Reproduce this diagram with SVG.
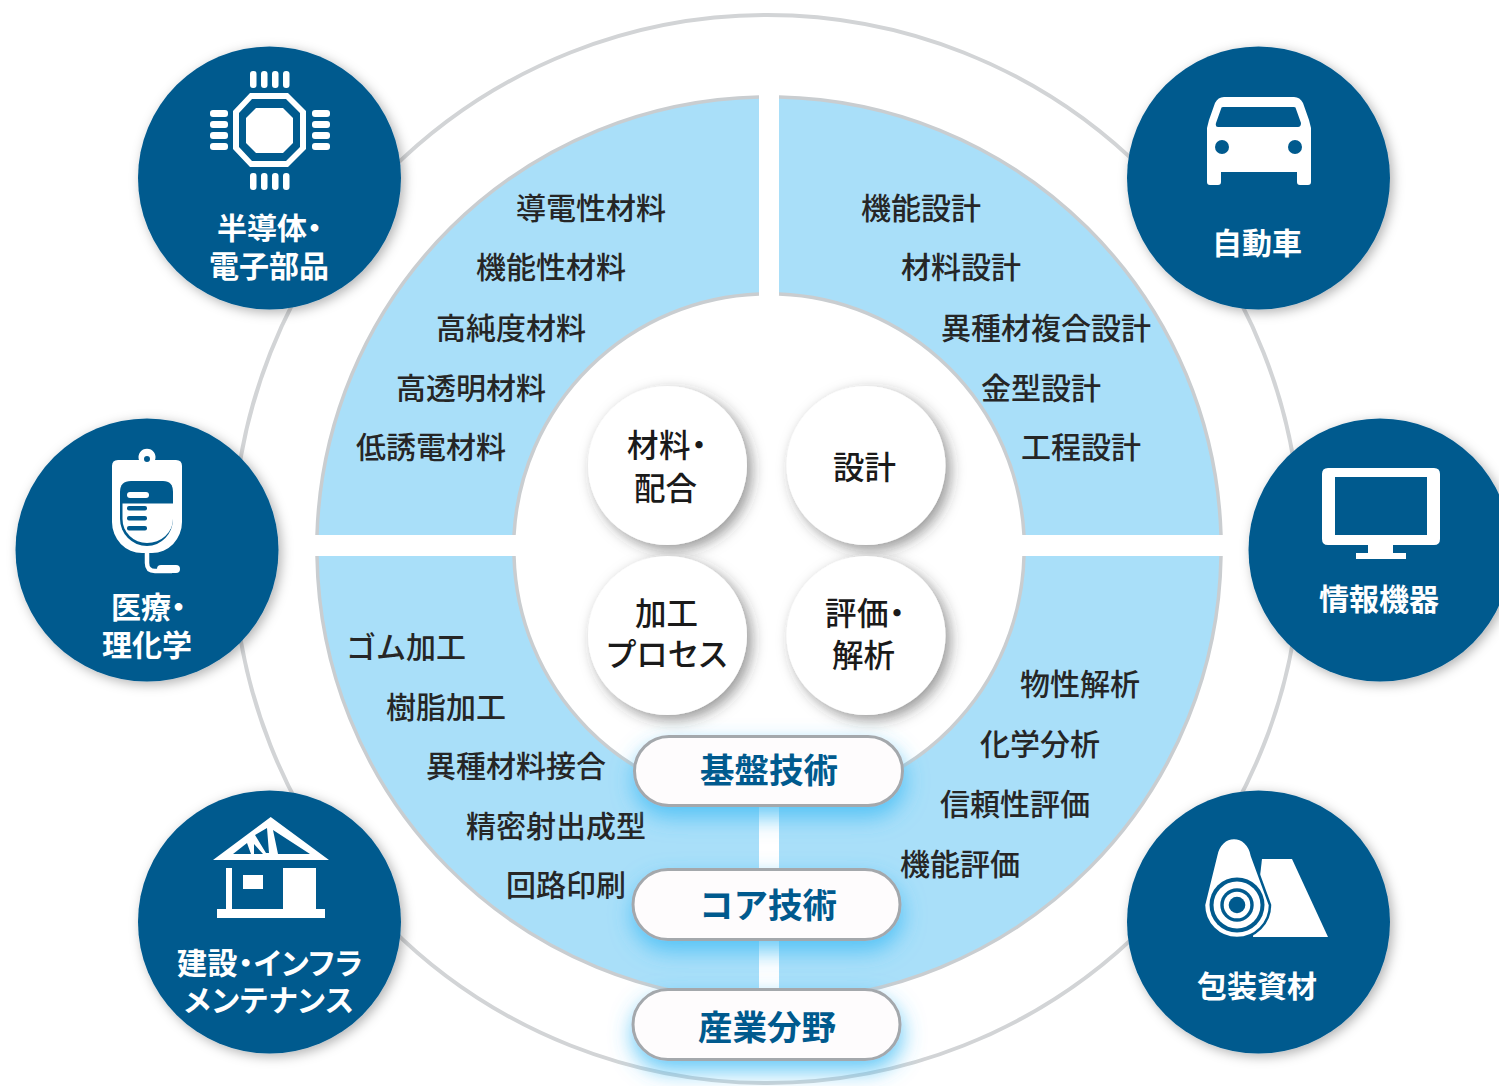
<svg xmlns="http://www.w3.org/2000/svg" width="1499" height="1086" viewBox="0 0 1499 1086">
<defs>
<style>
text{font-family:"Noto Sans CJK JP","Noto Sans",sans-serif}
.item{font-size:30px;fill:#262626;font-weight:500}
.core{font-size:31.5px;fill:#1a1a1a;font-weight:500}
.nav{font-size:30px;fill:#fff;font-weight:600}
.pillt{font-size:34.5px;fill:#005a8e;font-weight:700}
.p{font-feature-settings:"palt"}
.sector{fill:#a9dff9}
.edge{fill:none;stroke:#c9cdd0;stroke-width:3.5}
.w{fill:#fff}
.n{fill:#005a8e}
.navy{fill:#005a8e;filter:url(#s1)}
.small{fill:#fff;filter:url(#s2)}
.pill{fill:#fefcfd;stroke:#a4a8ac;stroke-width:3;filter:url(#s3)}
</style>
<filter id="s1" x="-15%" y="-15%" width="130%" height="130%"><feDropShadow dx="3" dy="3" stdDeviation="6" flood-color="#000" flood-opacity=".3"/></filter>
<filter id="s2" x="-25%" y="-25%" width="150%" height="150%"><feDropShadow dx="5" dy="5" stdDeviation="7" flood-color="#333" flood-opacity=".5"/></filter>
<filter id="s3" x="-15%" y="-40%" width="130%" height="200%"><feDropShadow dx="1" dy="10" stdDeviation="11" flood-color="#3dbcf5" flood-opacity=".8"/></filter>
</defs>
<rect width="1499" height="1086" fill="#fff"/>
<g id="connectors">
<circle cx="767" cy="549" r="534" fill="none" stroke="#d2d4d6" stroke-width="4"/>
</g>
<g id="ring">
<path class="sector" d="M759 97A452 452 0 0 0 317 535H514A255 255 0 0 1 759 294Z"/>
<path class="sector" d="M779 97A452 452 0 0 1 1221 535H1024A255 255 0 0 0 779 294Z"/>
<path class="sector" d="M317 556A452 452 0 0 0 759 1001V804A255 255 0 0 1 514 556Z"/>
<path class="sector" d="M1221 556A452 452 0 0 1 779 1001V804A255 255 0 0 0 1024 556Z"/>
<path class="edge" d="M759 97A452 452 0 0 0 317 535M779 97A452 452 0 0 1 1221 535M317 556A452 452 0 0 0 759 1001M1221 556A452 452 0 0 1 779 1001"/>
<path class="edge" d="M514 535A255 255 0 0 1 759 294M1024 535A255 255 0 0 0 779 294M514 556A255 255 0 0 0 759 804M1024 556A255 255 0 0 1 779 804"/>
</g>
<g id="list-material">
<text class="item" x="516" y="219">導電性材料</text>
<text class="item" x="476" y="278">機能性材料</text>
<text class="item" x="436" y="339">高純度材料</text>
<text class="item" x="396" y="399">高透明材料</text>
<text class="item" x="356" y="458">低誘電材料</text>
</g>
<g id="list-design">
<text class="item" x="861" y="219">機能設計</text>
<text class="item" x="901" y="278">材料設計</text>
<text class="item" x="941" y="339">異種材複合設計</text>
<text class="item" x="981" y="399">金型設計</text>
<text class="item" x="1021" y="458">工程設計</text>
</g>
<g id="list-process">
<text class="item" x="346" y="658">ゴム加工</text>
<text class="item" x="386" y="718">樹脂加工</text>
<text class="item" x="426" y="777">異種材料接合</text>
<text class="item" x="466" y="837">精密射出成型</text>
<text class="item" x="506" y="896">回路印刷</text>
</g>
<g id="list-evaluation">
<text class="item" x="1020" y="695">物性解析</text>
<text class="item" x="980" y="755">化学分析</text>
<text class="item" x="940" y="815">信頼性評価</text>
<text class="item" x="900" y="875">機能評価</text>
</g>
<g id="core-material"><circle class="small" cx="667.5" cy="465.5" r="79.5"/>
<text class="core p" x="627" y="457" letter-spacing=".5">材料・</text><text class="core" x="634" y="500">配合</text></g>
<g id="core-design"><circle class="small" cx="866" cy="465.5" r="79.5"/>
<text class="core" x="833" y="479">設計</text></g>
<g id="core-process"><circle class="small" cx="667.5" cy="635.5" r="79.5"/>
<text class="core" x="635" y="625">加工</text><text class="core p" x="607" y="666" letter-spacing=".7">プロセス</text></g>
<g id="core-evaluation"><circle class="small" cx="866" cy="635.5" r="79.5"/>
<text class="core p" x="825" y="625" letter-spacing=".5">評価・</text><text class="core" x="832" y="667">解析</text></g>
<g id="pill-base"><rect class="pill" x="634.5" y="736.5" width="268" height="69" rx="34.5"/>
<text class="pillt" x="700" y="783">基盤技術</text></g>
<g id="pill-core"><rect class="pill" x="633" y="869.5" width="267" height="70" rx="35"/>
<text class="pillt" x="699" y="918">コア技術</text></g>
<g id="pill-industry"><rect class="pill" x="633" y="989.5" width="267" height="70" rx="35"/>
<text class="pillt" x="698" y="1040">産業分野</text></g>
<g id="node-semiconductor"><circle class="navy" cx="269.500" cy="178" r="131.500"/>
<path class="w" fill-rule="evenodd" d="M250 93H288L306 111V149L288 167H250L233 149V111ZM252 99L239 113V147L252 161H286L300 147V113L286 99Z"/>
<path class="w" d="M256 108H283L293 118V143L283 153H256L246 143V118Z"/>
<g class="w">
<rect x="250" y="71" width="6.5" height="17" rx="3"/><rect x="261" y="71" width="6.5" height="17" rx="3"/><rect x="272" y="71" width="6.5" height="17" rx="3"/><rect x="283" y="71" width="6.5" height="17" rx="3"/>
<rect x="250" y="173" width="6.5" height="17" rx="3"/><rect x="261" y="173" width="6.5" height="17" rx="3"/><rect x="272" y="173" width="6.5" height="17" rx="3"/><rect x="283" y="173" width="6.5" height="17" rx="3"/>
<rect x="210" y="110" width="18" height="7" rx="3"/><rect x="210" y="121" width="18" height="7" rx="3"/><rect x="210" y="132" width="18" height="7" rx="3"/><rect x="210" y="143" width="18" height="7" rx="3"/>
<rect x="312" y="110" width="18" height="7" rx="3"/><rect x="312" y="121" width="18" height="7" rx="3"/><rect x="312" y="132" width="18" height="7" rx="3"/><rect x="312" y="143" width="18" height="7" rx="3"/>
</g>
<text class="nav p" x="217" y="239">半導体・</text><text class="nav" x="209" y="277">電子部品</text></g>
<g id="node-medical"><circle class="navy" cx="147" cy="550" r="131.500"/>
<path class="w" fill-rule="evenodd" d="M139 460A8.500 8.500 0 1 1 155 460H176Q182 460 182 466V522A30 31 0 0 1 152 553H142A30 31 0 0 1 112 522V466Q112 460 118 460ZM147 456A3 3 0 1 0 147 462A3 3 0 1 0 147 456Z"/>
<path class="n" d="M120 492Q120 481 131 481H163Q173 481 173 492V519A26 27 0 0 1 147 546A27 27 0 0 1 120 519Z"/>
<path class="w" d="M122.500 503.500H173V519A26 24 0 0 1 147 543A24.500 24 0 0 1 122.500 519Z"/>
<rect class="w" x="127" y="492" width="22" height="6" rx="3"/>
<rect class="n" x="127" y="506" width="20" height="4.500" rx="2"/><rect class="n" x="127" y="516" width="20" height="4.500" rx="2"/><rect class="n" x="127" y="526" width="20" height="4.500" rx="2"/>
<path d="M147 552V563Q147 571 155 571H172" fill="none" stroke="#fff" stroke-width="4.500"/>
<rect class="w" x="157" y="565" width="23" height="8" rx="4"/>
<text class="nav p" x="111" y="618">医療・</text><text class="nav" x="102" y="656">理化学</text></g>
<g id="node-construction"><circle class="navy" cx="269.500" cy="922" r="131.500"/>
<path class="w" fill-rule="evenodd" d="M270.700 817L329 860H213ZM273 830L278 854H310ZM267 828L255 835L266 853H269ZM247 843L233 854H251ZM254 844V854H263Z"/>
<rect class="w" x="226" y="868" width="6" height="42"/>
<rect class="w" x="283" y="868" width="33" height="42"/>
<rect class="w" x="243" y="875" width="20" height="14"/>
<rect class="w" x="217" y="909" width="108" height="9"/>
<text class="nav p" x="177" y="974" letter-spacing=".6">建設・インフラ</text><text class="nav p" x="184" y="1011" letter-spacing="1">メンテナンス</text></g>
<g id="node-car"><circle class="navy" cx="1258.500" cy="178" r="131.500"/>
<path class="w" d="M1224 97H1294Q1300 97 1303 103L1309 120L1311 128V182Q1311 185 1308 185H1300Q1297 185 1297 182V172H1221V182Q1221 185 1218 185H1210Q1207 185 1207 182V128L1209 120L1215 103Q1218 97 1224 97Z"/>
<path class="n" d="M1223 107H1294Q1296 107 1296 109L1301 123Q1301 127 1298 127H1218Q1215 127 1216 123L1221 109Q1221 107 1223 107Z"/>
<circle class="n" cx="1222" cy="147" r="7"/><circle class="n" cx="1295" cy="147" r="7"/>
<text class="nav" x="1212" y="254">自動車</text></g>
<g id="node-it"><circle class="navy" cx="1380" cy="550" r="131.500"/>
<path class="w" fill-rule="evenodd" d="M1328 468H1434Q1440 468 1440 474V539Q1440 545 1434 545H1393V553H1406V559H1356V553H1368V545H1328Q1322 545 1322 539V474Q1322 468 1328 468ZM1335 477V535H1427V477Z"/>
<text class="nav" x="1319" y="610">情報機器</text></g>
<g id="node-packaging"><circle class="navy" cx="1258.500" cy="922" r="131.500"/>
<path class="w" d="M1262 859H1292L1328 937H1253Z"/>
<path class="w" stroke="#005a8e" stroke-width="2.500" d="M1204 905L1216 856C1220 832 1248 832 1252 856L1270 905A33 33 0 0 1 1204 905Z"/>
<circle class="n" cx="1237" cy="905" r="27.500"/><circle class="w" cx="1237" cy="905" r="23.500"/>
<circle class="n" cx="1237" cy="905" r="16.700"/><circle class="w" cx="1237" cy="905" r="13.300"/>
<circle class="n" cx="1237" cy="905" r="8.300"/>
<text class="nav" x="1197" y="997">包装資材</text></g>
</svg>
